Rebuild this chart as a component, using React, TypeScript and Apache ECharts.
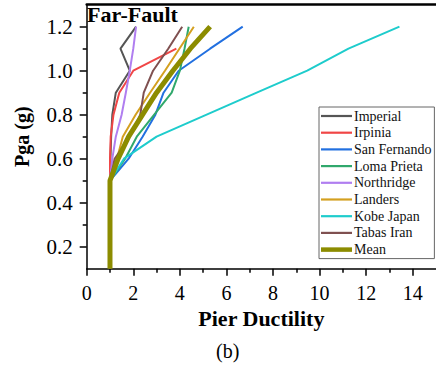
import React, { useEffect, useRef } from "react";
import * as echarts from "echarts";

const pga = [0.1, 0.2, 0.3, 0.4, 0.5, 0.6, 0.7, 0.8, 0.9, 1.0, 1.1, 1.2];

const seriesNames = [
  "Imperial",
  "Irpinia",
  "San Fernando",
  "Loma Prieta",
  "Northridge",
  "Landers",
  "Kobe Japan",
  "Tabas Iran",
  "Mean",
];

const imperial = [1, 1, 1, 1, 1, 1.02, 1.05, 1.1, 1.25, 1.85, 1.45, 2.12];
const irpinia = [1, 1, 1, 1, 1, 1.0, 1.03, 1.15, 1.4, 2.0, 3.85];
const sanFernando = [1, 1, 1, 1, 1, 1.8, 2.4, 2.95, 3.3, 3.95, 5.3, 6.7];
const lomaPrieta = [1, 1, 1, 1, 1, 1.65, 2.15, 2.9, 3.65, 4.0, 4.2, 4.38];
const northridge = [1, 1, 1, 1, 1, 1.1, 1.25, 1.5, 1.68, 1.85, 2.0, 2.12];
const landers = [1, 1, 1, 1, 1, 1.3, 1.55, 2.1, 2.72, 3.36, 3.98, 4.6];
const kobeJapan = [1, 1, 1, 1, 1, 1.6, 3.0, 5.15, 7.3, 9.47, 11.24, 13.43];
const tabasIran = [1, 1, 1, 1, 1, 1.2, 1.85, 2.3, 2.45, 2.85, 3.5, 4.1];
const mean = [1, 1, 1, 1, 1, 1.35, 1.8, 2.4, 3.0, 3.7, 4.45, 5.3];

const xMajorTicks = [0, 2, 4, 6, 8, 10, 12, 14];
const xMinorTicks = [1, 3, 5, 7, 9, 11, 13];
const yMajorTicks = [0.2, 0.4, 0.6, 0.8, 1.0, 1.2];
const yMinorTicks = [0.3, 0.5, 0.7, 0.9, 1.1];

const colors = [
  "#555555",
  "#f04646",
  "#2270e0",
  "#30a86c",
  "#b07ef0",
  "#d4a020",
  "#1ecccc",
  "#7f5050",
  "#8c8c00",
];

const FONT = "Liberation Serif";

export default function App() {
  const ref = useRef<HTMLDivElement>(null);
  useEffect(() => {
    if (!ref.current) return;
    const chart = echarts.init(ref.current, undefined, { renderer: "svg" });
    const all = [imperial, irpinia, sanFernando, lomaPrieta, northridge, landers, kobeJapan, tabasIran, mean];
    const series = all.map((arr, i) => ({
      name: seriesNames[i],
      type: "line",
      symbol: "none",
      showSymbol: false,
      xAxisIndex: 0,
      yAxisIndex: 0,
      data: arr.map((d, j) => [d, pga[j]]),
      lineStyle: { color: colors[i], width: i === 8 ? 5 : 2 },
      itemStyle: { color: colors[i] },
      z: i === 8 ? 5 : 2,
    }));
    const legendData = seriesNames.map((n, i) => ({
      name: n,
      icon: i === 8 ? "path://M0 0H31V4.5H0Z" : "path://M0 0H31V2.2H0Z",
    }));
    const axisLineStyle = { color: "#000", width: 1.5 };
    chart.setOption({
      animation: false,
      title: {
        text: "Far-Fault",
        left: 87,
        top: 3,
        padding: 0,
        textStyle: { fontFamily: FONT, fontWeight: "bold", fontSize: 22, color: "#000" },
      },
      grid: { left: 86.7, top: 4.7, width: 353.6, height: 264, containLabel: false },
      legend: {
        orient: "vertical",
        left: 319,
        top: 107,
        padding: [2, 3, 2, 2],
        itemWidth: 31,
        itemHeight: 14,
        itemGap: 2.7,
        borderColor: "#666",
        borderWidth: 1,
        backgroundColor: "#fff",
        textStyle: { fontFamily: FONT, fontSize: 14, color: "#111", padding: [0, 0, 0, -3] },
        data: legendData,
      },
      xAxis: [
        {
          type: "value",
          min: 0,
          max: 15,
          position: "bottom",
          axisLine: { show: true, lineStyle: axisLineStyle },
          axisTick: { show: true, customValues: xMajorTicks, length: 7, lineStyle: { color: "#000", width: 1.5 } },
          axisLabel: {
            customValues: xMajorTicks,
            fontFamily: FONT,
            fontSize: 20,
            color: "#000",
            margin: 14,
          },
          splitLine: { show: false },
          name: "Pier Ductility",
          nameLocation: "middle",
          nameGap: 37,
          nameTextStyle: { fontFamily: FONT, fontWeight: "bold", fontSize: 22, color: "#000" },
        },
        {
          type: "value",
          min: 0,
          max: 15,
          position: "bottom",
          axisLine: { show: false },
          axisTick: { show: true, customValues: xMinorTicks, length: 4, lineStyle: { color: "#000", width: 1.5 } },
          axisLabel: { show: false },
          splitLine: { show: false },
        },
        {
          type: "value",
          min: 0,
          max: 15,
          position: "top",
          axisLine: { show: true, lineStyle: { color: "#000", width: 2.5 } },
          axisTick: { show: false },
          axisLabel: { show: false },
          splitLine: { show: false },
        },
      ],
      yAxis: [
        {
          type: "value",
          min: 0.1,
          max: 1.3,
          position: "left",
          axisLine: { show: true, lineStyle: axisLineStyle },
          axisTick: { show: true, customValues: yMajorTicks, length: 7, lineStyle: { color: "#000", width: 1.5 } },
          axisLabel: {
            customValues: yMajorTicks,
            formatter: (v: number) => v.toFixed(1),
            fontFamily: FONT,
            fontSize: 21,
            color: "#000",
            margin: 14,
          },
          splitLine: { show: false },
          name: "Pga (g)",
          nameLocation: "middle",
          nameRotate: 90,
          nameGap: 55,
          nameTextStyle: { fontFamily: FONT, fontWeight: "bold", fontSize: 20, color: "#000" },
        },
        {
          type: "value",
          min: 0.1,
          max: 1.3,
          position: "left",
          axisLine: { show: false },
          axisTick: { show: true, customValues: yMinorTicks, length: 4, lineStyle: { color: "#000", width: 1.5 } },
          axisLabel: { show: false },
          splitLine: { show: false },
        },
      ],
      graphic: [
        {
          type: "text",
          left: 216,
          top: 341,
          style: { text: "(b)", fontFamily: FONT, fontSize: 20, fill: "#000" },
        },
      ],
      series,
    });
    return () => chart.dispose();
  }, []);
  return (
    <div
      ref={ref}
      style={{ position: "absolute", left: 0, top: 0, width: 436, height: 376, background: "#fff" }}
    />
  );
}
